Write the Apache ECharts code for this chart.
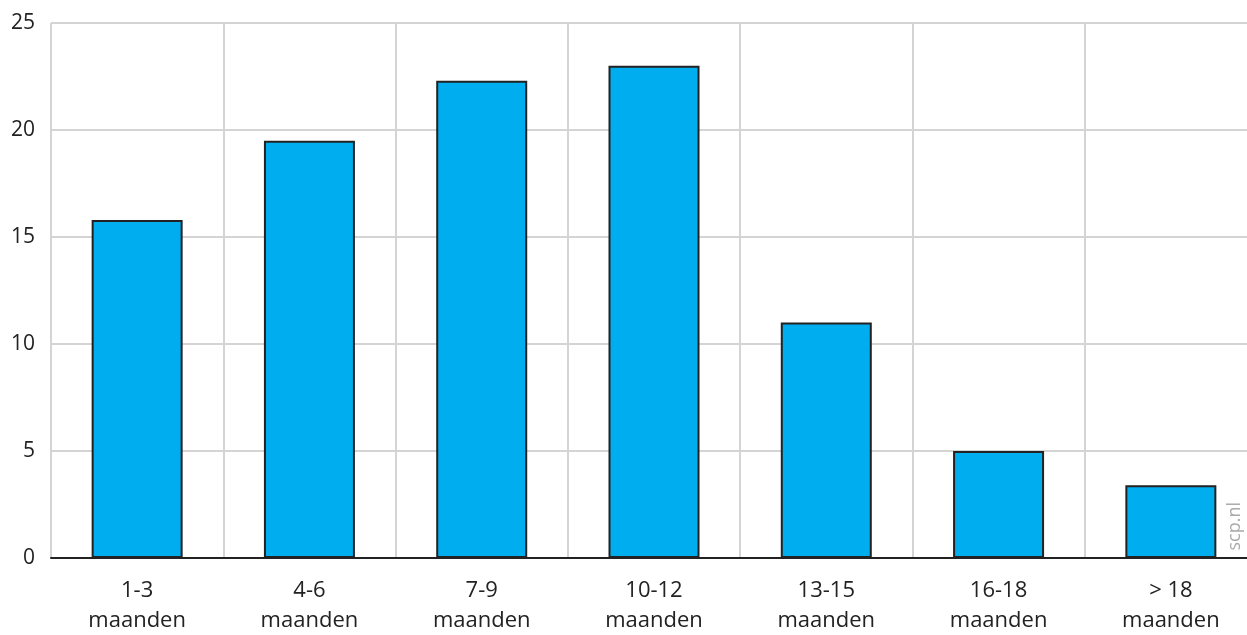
<!DOCTYPE html>
<html><head><meta charset="utf-8">
<script src="https://cdn.jsdelivr.net/npm/echarts@6/dist/echarts.min.js"></script>
<style>html,body{margin:0;padding:0;background:#fff}#c{width:1247px;height:635px}</style>
</head><body><div id="c"></div>
<script>
const categories = ['1-3\nmaanden','4-6\nmaanden','7-9\nmaanden','10-12\nmaanden','13-15\nmaanden','16-18\nmaanden','> 18\nmaanden'];
const values = [15.8, 19.5, 22.3, 23.0, 11.0, 5.0, 3.4];
const yTicks = [0, 5, 10, 15, 20, 25];

const chart = echarts.init(document.getElementById('c'));
chart.setOption({
  animation: false,
  grid: { left: 51, width: 1206, top: 23, height: 535, outerBoundsMode: 'none', containLabel: false },
  xAxis: {
    type: 'category',
    data: categories,
    axisLine: { lineStyle: { color: '#222', width: 2 } },
    axisTick: { alignWithLabel: true, length: 10, lineStyle: { color: '#222', width: 2 } },
    axisLabel: { color: '#222', fontSize: 22, fontFamily: 'Open Sans', lineHeight: 30, margin: 18 },
    splitLine: { show: true, lineStyle: { color: '#d4d4d4', width: 2 } }
  },
  yAxis: {
    type: 'value',
    min: 0, max: 25, interval: 5,
    axisLine: { show: false },
    axisTick: { show: false },
    axisLabel: { color: '#222', fontSize: 21, fontFamily: 'Open Sans', margin: 16,
      formatter: v => yTicks.includes(v) ? String(v) : '' },
    splitLine: { lineStyle: { color: '#d4d4d4', width: 2 } }
  },
  series: [{
    type: 'bar',
    data: values,
    barWidth: 91,
    itemStyle: { color: '#00adef', borderColor: '#222', borderWidth: 2 }
  }],
  graphic: [{
    type: 'text',
    left: 1226, top: 502,
    rotation: Math.PI / 2,
    style: { text: 'scp.nl', fill: '#aaa', fontSize: 18, fontFamily: 'Open Sans' }
  }]
});
</script></body></html>
